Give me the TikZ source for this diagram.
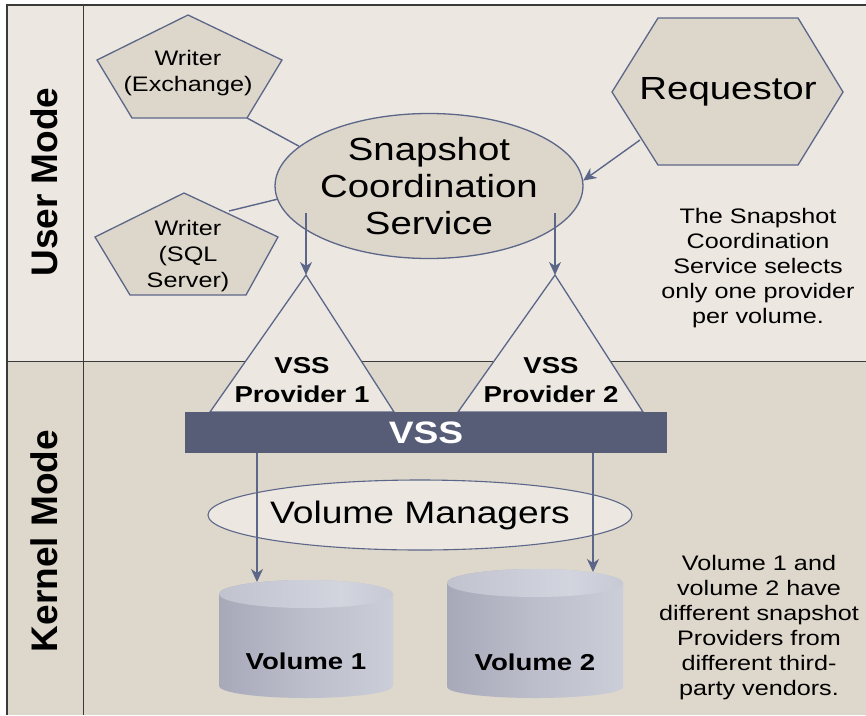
\documentclass[tikz,border=0pt]{standalone}
\usepackage{fontspec}
\setmainfont{Liberation Sans}
\newfontfamily\widesans[FakeStretch=1.2]{Liberation Sans}
\usetikzlibrary{arrows.meta,shapes.geometric}

\definecolor{userbg}{HTML}{ECE8E1}
\definecolor{kernelbg}{HTML}{DED7CB}
\definecolor{shapefill}{HTML}{DDD6CA}
\definecolor{edgeblue}{HTML}{5C6688}
\definecolor{barblue}{HTML}{585D77}
\definecolor{framegray}{HTML}{3A3A3A}
\definecolor{cylA}{HTML}{9092A4}
\definecolor{cylB}{HTML}{A7A9B9}
\definecolor{cylC}{HTML}{BCBECB}
\definecolor{cylD}{HTML}{CDCFDA}
\definecolor{cylE}{HTML}{A3A5B5}
\definecolor{topA}{HTML}{B4B6C4}
\definecolor{topB}{HTML}{D2D4DE}

\pgfdeclarehorizontalshading{cylbody}{100bp}{color(0bp)=(cylA); color(25bp)=(cylB); color(50bp)=(cylC); color(78bp)=(cylD); color(92bp)=(cylD); color(100bp)=(cylE)}
\pgfdeclarehorizontalshading{cyltop}{100bp}{color(0bp)=(topA); color(60bp)=(topB); color(100bp)=(topA)}

\tikzset{
  boxshape/.style={draw=edgeblue, line width=1.3pt, fill=shapefill, line join=miter},
  lightshape/.style={draw=edgeblue, line width=1.3pt, fill=userbg},
  link/.style={draw=edgeblue, line width=1.4pt},
  arrowlink/.style={link, -{Stealth[length=13pt,width=12pt,inset=4pt]}},
  bigtxt/.style={font=\widesans\fontsize{32}{37}\selectfont, align=center},
  writertxt/.style={font=\widesans\fontsize{21}{26}\selectfont, align=center},
  notetxt/.style={font=\widesans\fontsize{21}{25}\selectfont, align=center},
  provtxt/.style={font=\widesans\bfseries\fontsize{23}{29}\selectfont, align=center},
  voltxt/.style={font=\widesans\bfseries\fontsize{23}{28}\selectfont},
  modetxt/.style={font=\bfseries\fontsize{37}{40}\selectfont, rotate=90}
}

\begin{document}
\begin{tikzpicture}[x=1pt,y=-1pt]
\useasboundingbox (0,0) rectangle (866,715);

% panels
\fill[white] (0,0) rectangle (866,715);
\fill[userbg] (7,5) rectangle (866,361);
\fill[kernelbg] (7,361) rectangle (866,715);
\draw[framegray, line width=1pt] (7,361) -- (866,361);
\draw[framegray, line width=1pt] (83,5) -- (83,715);
\draw[framegray, line width=2pt] (6,5) -- (866,5);
\draw[framegray, line width=2pt] (7,4) -- (7,715);

\node[modetxt] (usermode) at (44,182) {User Mode};
\node[modetxt] (kernelmode) at (44,541) {Kernel Mode};

% writers and requestor outlines
\draw[boxshape] (188,15) -- (282,60) -- (247,118) -- (132,118) -- (97,60) -- cycle;
\draw[boxshape] (184,193) -- (278,237) -- (246,295) -- (130,295) -- (95,237) -- cycle;
\draw[boxshape] (612,92) -- (658,18) -- (798,18) -- (843,92) -- (798,165) -- (658,165) -- cycle;
\coordinate (wexport) at (247,118);
\coordinate (wsqlport) at (229,211);
\coordinate (reqport) at (640,140);

% coordination service
\node[ellipse, draw=edgeblue, line width=1.3pt, fill=shapefill, inner sep=0pt,
      minimum width=302pt, minimum height=145pt, bigtxt] (scs) at (429,186)
      {Snapshot\\Coordination\\Service};

\node[writertxt] (wex) at (188,73) {Writer\\(Exchange)};
\node[writertxt] (wsql) at (188,256) {Writer\\(SQL\\Server)};
\node[bigtxt] (req) at (728,92) {Requestor};

\draw[link] (wexport) -- (scs.163);
\draw[link] (wsqlport) -- (scs.185);
\draw[arrowlink] (reqport) -- (scs.2);

% providers
\draw[lightshape] (306,275) -- (394,412) -- (210,412) -- cycle;
\draw[lightshape] (555,275) -- (643,412) -- (458,412) -- cycle;
\coordinate (p1top) at (306,275);
\coordinate (p2top) at (555,275);
\coordinate (scsleft) at (306,213);
\coordinate (scsright) at (555,213);
\draw[arrowlink] (scsleft) -- (p1top);
\draw[arrowlink] (scsright) -- (p2top);

\node[provtxt] (prov1) at (302,380) {VSS\\Provider 1};
\node[provtxt] (prov2) at (551,380) {VSS\\Provider 2};

% VSS bar
\node[fill=barblue, minimum width=482pt, minimum height=41pt, inner sep=0pt,
      text=white, font=\widesans\bfseries\fontsize{31}{34}\selectfont] (vss) at (426,432.5) {VSS};

% volume managers
\node[ellipse, draw=edgeblue, line width=1.1pt, fill=userbg, inner sep=0pt,
      minimum width=410pt, minimum height=70pt,
      font=\widesans\fontsize{31}{36}\selectfont] (vm) at (420,515) {Volume Managers};

% volumes
\shade[shading=cylbody] (219,594) -- (219,686)
  arc[start angle=180, end angle=360, x radius=87pt, y radius=12pt]
  -- (393,594) arc[start angle=0, end angle=180, x radius=87pt, y radius=14pt] -- cycle;
\shade[shading=cyltop] (306,594) ellipse[x radius=87pt, y radius=14pt];
\shade[shading=cylbody] (447,583) -- (447,687)
  arc[start angle=180, end angle=360, x radius=88pt, y radius=11pt]
  -- (623,583) arc[start angle=0, end angle=180, x radius=88pt, y radius=14pt] -- cycle;
\shade[shading=cyltop] (535,583) ellipse[x radius=88pt, y radius=14pt];

\node[voltxt] (vol1) at (306,661) {Volume 1};
\node[voltxt] (vol2) at (535,662) {Volume 2};

\coordinate (v1top) at (257,582);
\coordinate (v2top) at (593,572);
\draw[arrowlink] (vss.south -| v1top) -- (v1top);
\draw[arrowlink] (vss.south -| v2top) -- (v2top);

% notes
\node[notetxt] (note1) at (758,268) {The Snapshot\\Coordination\\Service selects\\only one provider\\per volume.};
\node[notetxt] (note2) at (759,628) {Volume 1 and\\volume 2 have\\different snapshot\\Providers from\\different third-\\party vendors.};
\end{tikzpicture}
\end{document}
